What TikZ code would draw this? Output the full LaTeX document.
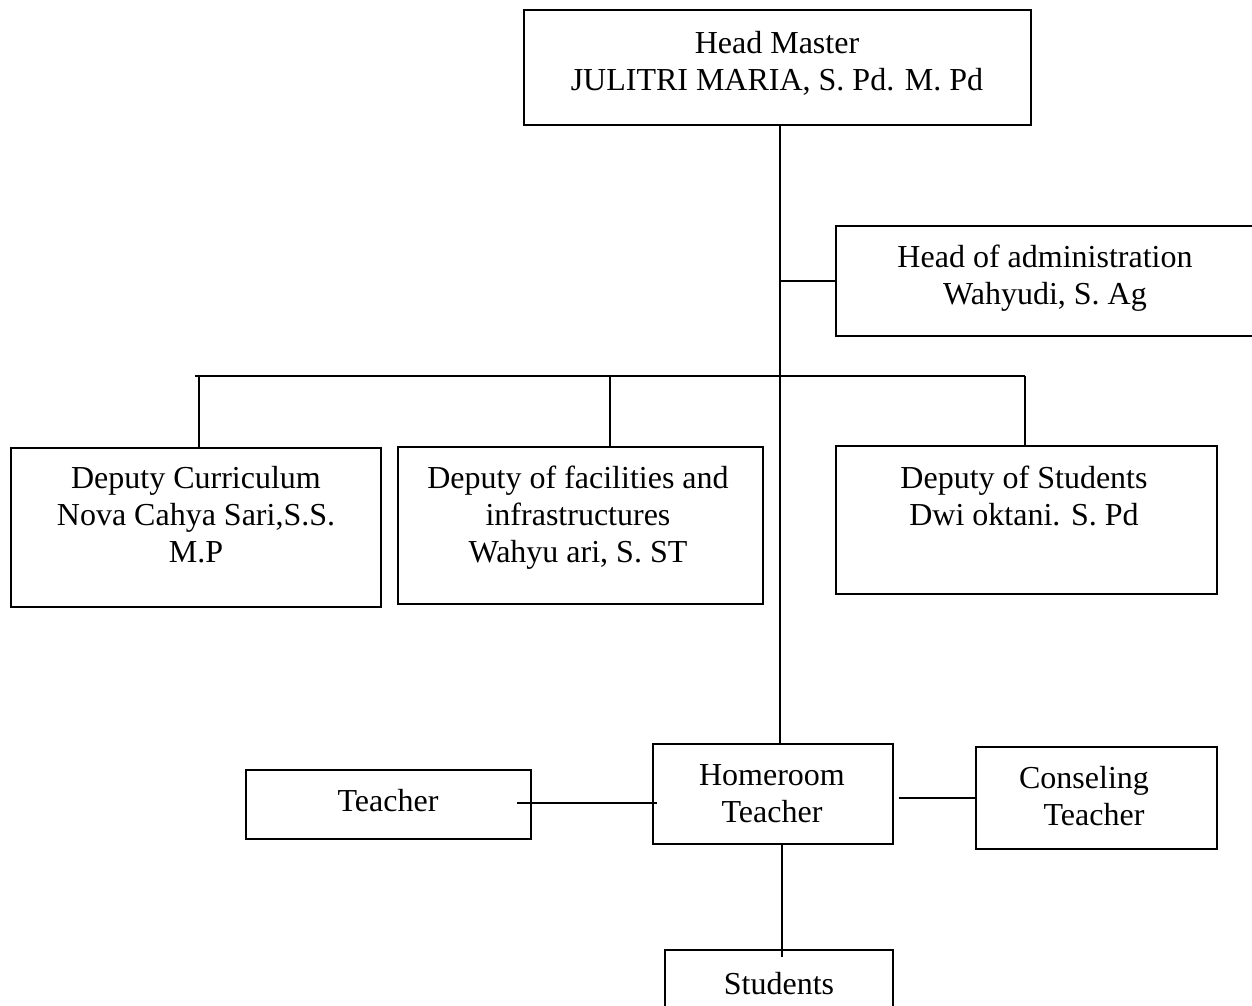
\documentclass[tikz,border=0pt]{standalone}
\usepackage{fontspec}
\setmainfont{Liberation Serif}
\begin{document}
\begin{tikzpicture}[x=1pt,y=-1pt,
  box/.style={draw, line width=1.8pt, inner sep=0pt, rectangle},
  txt/.style={font=\fontsize{32}{37}\selectfont, align=center, inner sep=0pt, anchor=north},
  conn/.style={line width=1.8pt}]
\useasboundingbox (0,0) rectangle (1252,1005);
% boxes
\node[box, minimum width=507pt, minimum height=115pt] (hm) at (777.5,67.5) {};
\node[box, minimum width=426pt, minimum height=110pt] (adm) at (1049,281) {};
\node[box, minimum width=370pt, minimum height=159pt] (dc) at (196,527.5) {};
\node[box, minimum width=365pt, minimum height=157pt] (df) at (580.5,525.5) {};
\node[box, minimum width=381pt, minimum height=148pt] (ds) at (1026.5,520) {};
\node[box, minimum width=240pt, minimum height=100pt] (hr) at (773,794) {};
\node[box, minimum width=285pt, minimum height=69pt] (tc) at (388.5,804.5) {};
\node[box, minimum width=241pt, minimum height=102pt] (cs) at (1096.5,798) {};
\node[box, minimum width=228pt, minimum height=80pt] (st) at (779,990) {};
% texts
\node[txt] (hmt) at (777,27) {\strut Head Master\\JULITRI MARIA, S. Pd. M. Pd};
\node[txt] (admt) at (1045,241) {\strut Head of administration\\Wahyudi, S. Ag};
\node[txt] (dct) at (196,462) {\strut Deputy Curriculum\\Nova Cahya Sari,S.S.\\M.P};
\node[txt] (dft) at (578,462) {\strut Deputy of facilities and\\infrastructures\\Wahyu ari, S. ST};
\node[txt] (dst) at (1024,462) {\strut Deputy of Students\\Dwi oktani. S. Pd};
\node[txt] (hrt) at (772,759) {\strut Homeroom\\Teacher};
\node[txt] (tct) at (388,785) {\strut Teacher};
\node[txt] (cst) at (1084,762) {\strut Conseling\\\hspace*{20pt}Teacher};
\node[txt] (stt) at (779,968) {\strut Students};
% connectors
\coordinate (spine) at (780,0);
\draw[conn] (spine |- hm.south) -- (spine |- hr.north);
\draw[conn] (spine |- adm.west) -- (adm.west);
\coordinate (d1) at (199,376);
\coordinate (d2) at (610,376);
\coordinate (d3) at (1025,376);
\draw[conn] ([xshift=-4pt]d1) -- (d3);
\draw[conn] (d1) -- (d1 |- dc.north);
\draw[conn] (d2) -- (d2 |- df.north);
\draw[conn] (d3) -- (d3 |- ds.north);
\coordinate (tl) at (517,803);
\draw[conn] (tl) -- ([xshift=5pt]tl -| hr.west);
\draw[conn] ([xshift=5pt]hr.east |- cs.west) -- (cs.west);
\coordinate (sl) at (782,957);
\draw[conn] (sl |- hr.south) -- (sl);
\end{tikzpicture}
\end{document}
